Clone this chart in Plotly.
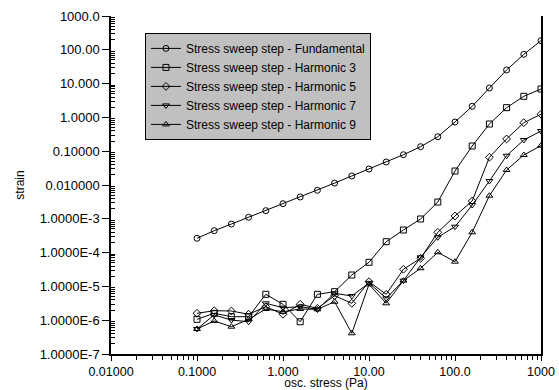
import plotly.graph_objects as go

stress = [0.1, 0.1585, 0.2512, 0.3981, 0.631, 1.0, 1.585, 2.512, 3.981, 6.31, 10.0,
          15.85, 25.12, 39.81, 63.1, 100.0, 158.5, 251.2, 398.1, 631.0, 1000.0]

fundamental = [2.65e-4, 4.45e-4, 7.0e-4, 1.11e-3, 1.74e-3, 2.8e-3, 4.42e-3, 6.97e-3, 1.14e-2,
               1.85e-2, 2.97e-2, 4.79e-2, 7.87e-2, 0.136, 0.268, 0.731, 2.13, 7.41, 25.3, 73.6, 186.0]
harmonic3 = [1.06e-6, 1.6e-6, 1.27e-6, 1.27e-6, 5.83e-6, 2.95e-6, 9.0e-7, 5.83e-6, 6.97e-6,
             2.17e-5, 5.16e-5, 2.10e-4, 4.66e-4, 9.87e-4, 3.14e-3, 2.59e-2, 0.1425, 0.638, 1.94, 4.21, 6.92]
harmonic5 = [1.6e-6, 1.91e-6, 1.87e-6, 1.5e-6, 2.51e-6, 1.5e-6, 2.95e-6, 2.25e-6, 5.3e-6,
             3.16e-6, 1.38e-5, 5.83e-6, 3.21e-5, 6.78e-5, 3.99e-4, 1.21e-3, 3.37e-3, 0.066, 0.23, 0.697, 1.24]
harmonic7 = [5.5e-7, 1.43e-6, 1.01e-6, 9.0e-7, 3.16e-6, 2.34e-6, 2.51e-6, 2.1e-6, 6.25e-6,
             5.2e-6, 1.27e-5, 4.44e-6, 1.48e-5, 7.26e-5, 2.84e-4, 5.84e-4, 2.56e-3, 1.31e-2, 7.36e-2, 0.214, 0.396]
harmonic9 = [5.5e-7, 9.5e-7, 6.43e-7, 1.06e-6, 2.14e-6, 1.78e-6, 2.14e-6, 2.1e-6, 3.52e-6,
             4.1e-7, 1.15e-5, 3.16e-6, 1.48e-5, 3.44e-5, 1.02e-4, 5.38e-5, 3.99e-4, 4.82e-3, 2.78e-2, 7.73e-2, 0.1455]

series_names = ["Stress sweep step - Fundamental", "Stress sweep step - Harmonic 3",
                "Stress sweep step - Harmonic 5", "Stress sweep step - Harmonic 7",
                "Stress sweep step - Harmonic 9"]
series_symbols = ["circle-open", "square-open", "diamond-open", "triangle-down-open", "triangle-up-open"]

x_tickvals = [0.01, 0.1, 1, 10, 100, 1000]
x_ticktext = ["0.01000", "0.1000", "1.000", "10.00", "100.0", "1000"]
y_tickvals = [1e3, 1e2, 1e1, 1, 1e-1, 1e-2, 1e-3, 1e-4, 1e-5, 1e-6, 1e-7]
y_ticktext = ["1000.0", "100.00", "10.000", "1.0000", "0.10000", "0.010000",
              "1.0000E-3", "1.0000E-4", "1.0000E-5", "1.0000E-6", "1.0000E-7"]

font_family = "Liberation Sans, Arial, Helvetica, sans-serif"

fig = go.Figure()
for name, sym, vals in zip(series_names, series_symbols,
                           [fundamental, harmonic3, harmonic5, harmonic7, harmonic9]):
    fig.add_trace(go.Scatter(
        x=stress, y=vals, name=name, mode="lines+markers",
        line=dict(color="black", width=1),
        marker=dict(symbol=sym, size=6, color="black", line=dict(width=1, color="black")),
    ))

x_minor = [m * 10 ** e for e in range(-2, 3) for m in range(2, 10)]
y_minor = [m * 10 ** e for e in range(-7, 3) for m in range(2, 10)]

fig.update_layout(
    width=559, height=390,
    margin=dict(l=111, r=18, t=16, b=36, autoexpand=False),
    paper_bgcolor="white", plot_bgcolor="white",
    font=dict(family=font_family, size=12, color="black"),
    showlegend=True,
    legend=dict(
        x=0.079, y=0.95, xanchor="left", yanchor="top",
        bgcolor="#c0c0c0", bordercolor="black", borderwidth=1,
        font=dict(family=font_family, size=12, color="black"),
        itemwidth=30, tracegroupgap=0,
    ),
    xaxis=dict(
        type="log", range=[-2, 3], automargin=False,
        tickmode="array", tickvals=x_tickvals, ticktext=x_ticktext,
        ticks="outside", ticklen=5, tickcolor="black", tickwidth=1,
        showline=True, linecolor="black", linewidth=1.5, mirror=False,
        showgrid=False, zeroline=False,
        tickfont=dict(size=12.5),
        title=dict(text="osc. stress (Pa)", font=dict(size=12), standoff=0),
        minor=dict(tickmode="array", tickvals=x_minor, ticks="outside", ticklen=4,
                   tickcolor="black", showgrid=False),
    ),
    yaxis=dict(
        type="log", range=[-7, 3], automargin=False,
        tickmode="array", tickvals=y_tickvals, ticktext=y_ticktext,
        ticks="outside", ticklen=7, tickcolor="black", tickwidth=1,
        showline=True, linecolor="black", linewidth=1.5, mirror=True,
        showgrid=False, zeroline=False,
        tickfont=dict(size=13),
        title=dict(text="strain", font=dict(size=12), standoff=12),
        minor=dict(tickmode="array", tickvals=y_minor, ticks="inside", ticklen=4,
                   tickcolor="black", showgrid=False),
    ),
)

fig.write_html("out.html")
